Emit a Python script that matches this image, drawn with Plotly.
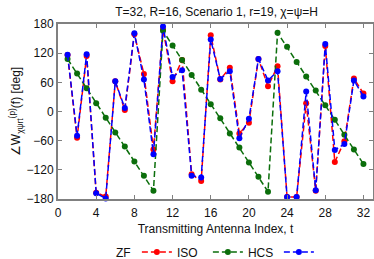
import plotly.graph_objects as go

antenna_index = list(range(1, 33))

zf_phase = [116, -54, 114, -167, -175, 62, 3, 159, 77, -78,
            169, 62, 106, -129, -143, 157, 66, 90, -45, -23,
            108, 52, 93, -176, -176, 17, -163, 135, -104, -61,
            68, 37]

iso_phase = [108, 78, 48, 17, -13, -43, -72, -103, -132, -163,
             166, 136, 106, 75, 45, 15, -14, -45, -74, -105,
             -134, -165, 162, 133, 102, 72, 43, 13, -17, -48,
             -78, -108]

hcs_phase = [117, -50, 118, -168, -179, 62, 7, 161, 66, -88,
             175, 71, 85, -132, -136, 148, 67, 83, -55, -15,
             108, 64, 83, -176, -176, 41, -162, 139, -79, -67,
             64, 31]

x_ticks = list(range(0, 33, 4))
y_ticks = list(range(-180, 181, 60))

series = [
    ("ZF", zf_phase, "#ff0000"),
    ("ISO", iso_phase, "#0b6e0b"),
    ("HCS", hcs_phase, "#0000ff"),
]
# plotly draws legend text after the symbol; the original shows the text
# before it, so each symbol carries the label of the following series
legend_names = ["ISO", "HCS", " "]

font = "Liberation Sans, Arial, sans-serif"
fig = go.Figure()
for (name, vals, col), lname in zip(series, legend_names):
    fig.add_trace(go.Scatter(
        x=antenna_index, y=vals, name=lname, mode="lines+markers",
        line=dict(color=col, width=1.5, dash="6px,3px"),
        marker=dict(color=col, size=6),
        cliponaxis=False,
        hovertemplate=name + ": t=%{x}, %{y}°<extra></extra>",
    ))

axis_common = dict(
    showline=True, linecolor="#808080", linewidth=2, mirror="ticks",
    ticks="inside", ticklen=4, tickcolor="#808080", tickwidth=1,
    showgrid=False, zeroline=False, automargin=False,
    tickfont=dict(family=font, size=12, color="#111"),
)

fig.update_layout(
    width=374, height=259,
    margin=dict(l=58, r=1, t=24, b=60, autoexpand=False),
    paper_bgcolor="white", plot_bgcolor="white",
    font=dict(family=font, size=12, color="#111"),
    title=dict(text="T=32, R=16, Scenario 1, r=19, χ=ψ=H",
               xref="container", yref="container",
               x=0.579, xanchor="center", y=0.955, yanchor="middle",
               font=dict(size=12)),
    xaxis=dict(range=[0, 33], tickvals=x_ticks, ticklabelstandoff=2,
               title=dict(text="Transmitting Antenna Index, t", standoff=5,
                          font=dict(size=12)),
               **axis_common),
    yaxis=dict(range=[-180, 180], tickvals=y_ticks,
               title=dict(text="∠W<sub>χψrt</sub><sup>(p)</sup>(f) [deg]",
                          standoff=3, font=dict(size=12)),
               **axis_common),
    legend=dict(orientation="h", xref="container", yref="container",
                x=0.366, xanchor="left", y=0.027, yanchor="middle",
                font=dict(size=12), itemwidth=30, entrywidth=26,
                bgcolor="rgba(0,0,0,0)"),
    annotations=[dict(text="ZF", xref="paper", yref="paper",
                      x=0.2376, y=-0.306, xanchor="right", yanchor="middle",
                      showarrow=False, font=dict(size=12))],
    showlegend=True,
)

fig.write_html("out.html", config={"displayModeBar": False},
               post_script="document.body.style.margin='0';")
